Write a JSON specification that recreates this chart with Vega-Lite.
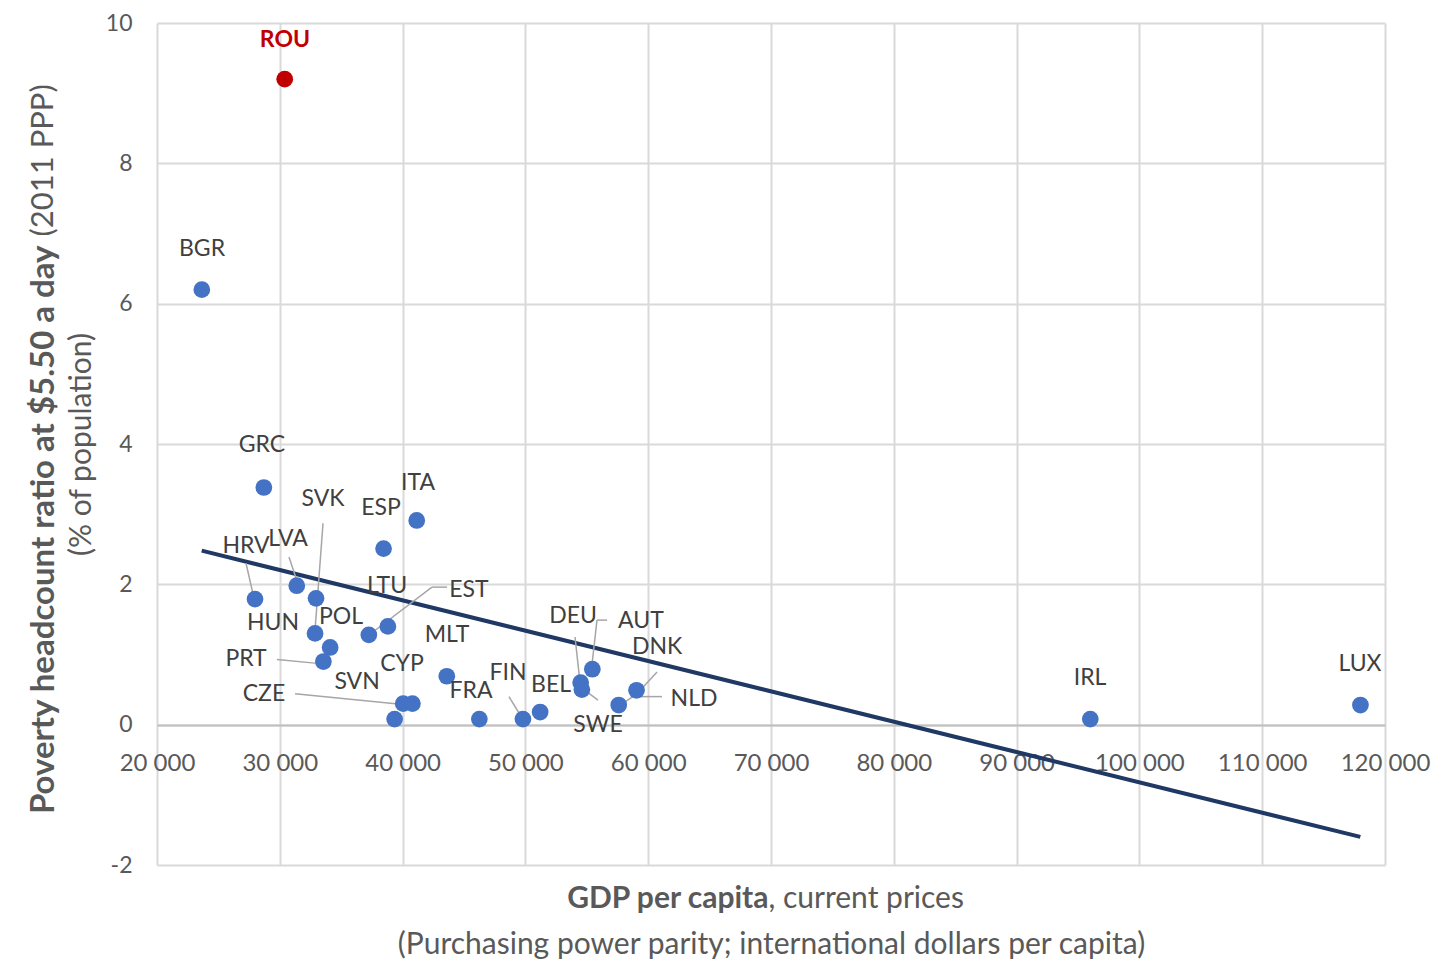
{
  "$schema": "https://vega.github.io/schema/vega-lite/v6.json",
  "width": 1228,
  "height": 842,
  "autosize": {"type": "none"},
  "padding": {"left": 157, "top": 23, "right": 67, "bottom": 97},
  "background": "white",
  "config": {
    "view": {"stroke": null},
    "font": "Lato",
    "axis": {"titleColor": "#595959", "labelColor": "#595959", "titleFont": "Lato", "labelFont": "Lato"}
  },
  "datasets": {
    "points": [
      {"iso": "ROU", "gdp": 30400, "pov": 9.2, "lx": 30420, "ly": 9.76, "group": "ROU"},
      {"iso": "BGR", "gdp": 23650, "pov": 6.2, "lx": 23665, "ly": 6.78, "group": "other"},
      {"iso": "GRC", "gdp": 28700, "pov": 3.38, "lx": 28550, "ly": 3.99, "group": "other"},
      {"iso": "ITA", "gdp": 41150, "pov": 2.91, "lx": 41250, "ly": 3.45, "group": "other"},
      {"iso": "ESP", "gdp": 38450, "pov": 2.51, "lx": 38240, "ly": 3.09, "group": "other"},
      {"iso": "SVK", "gdp": 32870, "pov": 1.3, "lx": 33520, "ly": 3.21, "group": "other"},
      {"iso": "HUN", "gdp": 32950, "pov": 1.8, "lx": 29450, "ly": 1.45, "group": "other"},
      {"iso": "HRV", "gdp": 27980, "pov": 1.79, "lx": 27250, "ly": 2.54, "group": "other"},
      {"iso": "LVA", "gdp": 31380, "pov": 1.98, "lx": 30670, "ly": 2.64, "group": "other"},
      {"iso": "LTU", "gdp": 38800, "pov": 1.4, "lx": 38730, "ly": 1.98, "group": "other"},
      {"iso": "EST", "gdp": 37250, "pov": 1.28, "lx": 45400, "ly": 1.92, "group": "other"},
      {"iso": "POL", "gdp": 34100, "pov": 1.1, "lx": 34980, "ly": 1.54, "group": "other"},
      {"iso": "PRT", "gdp": 33550, "pov": 0.9, "lx": 27250, "ly": 0.94, "group": "other"},
      {"iso": "MLT", "gdp": 43600, "pov": 0.69, "lx": 43620, "ly": 1.28, "group": "other"},
      {"iso": "CYP", "gdp": 40050, "pov": 0.3, "lx": 39950, "ly": 0.87, "group": "other"},
      {"iso": "CZE", "gdp": 40800, "pov": 0.3, "lx": 28710, "ly": 0.43, "group": "other"},
      {"iso": "SVN", "gdp": 39350, "pov": 0.08, "lx": 36290, "ly": 0.61, "group": "other"},
      {"iso": "FRA", "gdp": 46250, "pov": 0.08, "lx": 45570, "ly": 0.48, "group": "other"},
      {"iso": "FIN", "gdp": 49800, "pov": 0.08, "lx": 48580, "ly": 0.73, "group": "other"},
      {"iso": "BEL", "gdp": 51200, "pov": 0.18, "lx": 52090, "ly": 0.56, "group": "other"},
      {"iso": "DEU", "gdp": 54500, "pov": 0.6, "lx": 53880, "ly": 1.55, "group": "other"},
      {"iso": "SWE", "gdp": 54600, "pov": 0.5, "lx": 55910, "ly": 0.0, "group": "other"},
      {"iso": "AUT", "gdp": 55450, "pov": 0.79, "lx": 59410, "ly": 1.48, "group": "other"},
      {"iso": "DNK", "gdp": 59050, "pov": 0.49, "lx": 60720, "ly": 1.1, "group": "other"},
      {"iso": "NLD", "gdp": 57600, "pov": 0.28, "lx": 63730, "ly": 0.37, "group": "other"},
      {"iso": "IRL", "gdp": 96000, "pov": 0.08, "lx": 95980, "ly": 0.67, "group": "other"},
      {"iso": "LUX", "gdp": 118000, "pov": 0.28, "lx": 117960, "ly": 0.87, "group": "other"}
    ],
    "leaders": [
      {"iso": "HRV", "x1": 27250, "y1": 2.3, "x2": 27820, "y2": 1.86},
      {"iso": "LVA", "x1": 30750, "y1": 2.39, "x2": 31320, "y2": 2.09},
      {"iso": "SVK", "x1": 33520, "y1": 2.87, "x2": 32870, "y2": 1.35},
      {"iso": "EST", "x1": 43620, "y1": 1.96, "x2": 42390, "y2": 1.96},
      {"iso": "EST", "x1": 42390, "y1": 1.96, "x2": 37510, "y2": 1.31},
      {"iso": "PRT", "x1": 29770, "y1": 0.93, "x2": 33270, "y2": 0.87},
      {"iso": "CZE", "x1": 31240, "y1": 0.44, "x2": 40440, "y2": 0.28},
      {"iso": "FIN", "x1": 48660, "y1": 0.4, "x2": 49640, "y2": 0.12},
      {"iso": "DEU", "x1": 54040, "y1": 1.25, "x2": 54450, "y2": 0.6},
      {"iso": "SWE", "x1": 55910, "y1": 0.35, "x2": 54770, "y2": 0.5},
      {"iso": "AUT", "x1": 56650, "y1": 1.49, "x2": 55830, "y2": 1.49},
      {"iso": "AUT", "x1": 55830, "y1": 1.49, "x2": 55420, "y2": 0.85},
      {"iso": "DNK", "x1": 60720, "y1": 0.75, "x2": 59500, "y2": 0.52},
      {"iso": "NLD", "x1": 61120, "y1": 0.4, "x2": 58760, "y2": 0.4},
      {"iso": "NLD", "x1": 58760, "y1": 0.4, "x2": 57700, "y2": 0.28}
    ],
    "trend": [
      {"gdp": 23640, "pov": 2.48},
      {"gdp": 117990, "pov": -1.6}
    ]
  },
  "resolve": {"axis": {"x": "independent", "y": "independent"}},
  "layer": [
    {
      "data": {"name": "trend"},
      "mark": {"type": "line", "color": "#203864", "strokeWidth": 4},
      "encoding": {
        "x": {
          "field": "gdp", "type": "quantitative",
          "scale": {"domain": [20000, 120000], "nice": false, "zero": false},
          "axis": {
            "orient": "bottom", "grid": true, "gridColor": "#d9d9d9", "gridWidth": 2,
            "values": [20000, 30000, 40000, 50000, 60000, 70000, 80000, 90000, 100000, 110000, 120000],
            "labels": false, "ticks": false, "domain": false,
            "title": "GDP per capita", "titleFontWeight": "bold", "titleFontSize": 30,
            "titleAlign": "right", "titleBaseline": "middle", "titleX": 611, "titleY": 33
          }
        },
        "y": {
          "field": "pov", "type": "quantitative",
          "scale": {"domain": [-2, 10], "nice": false, "zero": false},
          "axis": {
            "orient": "left", "grid": true, "gridColor": "#d9d9d9", "gridWidth": 2,
            "values": [-2, 0, 2, 4, 6, 8, 10],
            "labelExpr": "replace(datum.label, '\u2212', '-')",
            "labels": true, "labelFontSize": 23, "labelPadding": 25, "ticks": false, "tickSize": 0, "domain": false,
            "title": "Poverty headcount ratio at $5.50 a day", "titleFontWeight": "bold", "titleFontSize": 33,
            "titleAngle": -90, "titleAlign": "right", "titleBaseline": "middle", "titleX": -114, "titleY": 222
          }
        }
      }
    },
    {
      "data": {"name": "leaders"},
      "mark": {"type": "rule", "color": "#a6a6a6", "strokeWidth": 1.5},
      "encoding": {
        "x": {
          "field": "x1", "type": "quantitative",
          "scale": {"domain": [20000, 120000], "nice": false, "zero": false},
          "axis": {
            "orient": "bottom", "grid": false, "labels": false, "ticks": false, "domain": false,
            "title": ", current prices", "titleFontWeight": "normal", "titleFontSize": 30,
            "titleAlign": "left", "titleBaseline": "middle", "titleX": 611, "titleY": 33
          }
        },
        "x2": {"field": "x2"},
        "y": {
          "field": "y1", "type": "quantitative",
          "scale": {"domain": [-2, 10], "nice": false, "zero": false},
          "axis": {
            "orient": "left", "grid": false, "labels": false, "ticks": false, "domain": false,
            "title": "(2011 PPP)", "titleFontWeight": "normal", "titleFontSize": 31,
            "titleAngle": -90, "titleAlign": "left", "titleBaseline": "middle", "titleX": -114, "titleY": 213
          }
        },
        "y2": {"field": "y2"}
      }
    },
    {
      "data": {"name": "points"},
      "mark": {"type": "circle", "size": 280, "opacity": 1},
      "encoding": {
        "x": {
          "field": "gdp", "type": "quantitative",
          "scale": {"domain": [20000, 120000], "nice": false, "zero": false},
          "axis": {
            "orient": "bottom", "grid": false, "labels": false, "ticks": false, "domain": false,
            "title": "(Purchasing power parity; international dollars per capita)", "titleFontWeight": "normal", "titleFontSize": 30,
            "titleAlign": "center", "titleBaseline": "middle", "titleX": 614, "titleY": 79
          }
        },
        "y": {
          "field": "pov", "type": "quantitative",
          "scale": {"domain": [-2, 10], "nice": false, "zero": false},
          "axis": {
            "orient": "left", "grid": false, "labels": false, "ticks": false, "domain": false,
            "title": "(% of population)", "titleFontWeight": "normal", "titleFontSize": 30,
            "titleAngle": -90, "titleAlign": "center", "titleBaseline": "middle", "titleX": -76, "titleY": 421
          }
        },
        "color": {
          "field": "group", "type": "nominal",
          "scale": {"domain": ["ROU", "other"], "range": ["#C00000", "#4472C4"]},
          "legend": null
        }
      }
    },
    {
      "data": {"name": "points"},
      "transform": [{"filter": "datum.iso !== 'ROU'"}],
      "mark": {"type": "text", "fontSize": 23, "color": "#404040", "font": "Lato", "align": "center", "baseline": "middle"},
      "encoding": {
        "x": {
          "field": "lx", "type": "quantitative",
          "scale": {"domain": [20000, 120000], "nice": false, "zero": false},
          "axis": {
            "orient": "bottom", "offset": -140, "grid": false,
            "values": [20000, 30000, 40000, 50000, 60000, 70000, 80000, 90000, 100000, 110000, 120000],
            "labelExpr": "replace(format(datum.value, ',.0f'), ',', ' ')",
            "labelFontSize": 24, "labelPadding": 26, "labelFlush": false, "labelOverlap": false,
            "ticks": false, "tickSize": 0, "domain": true, "domainColor": "#bfbfbf", "domainWidth": 2,
            "title": null
          }
        },
        "y": {
          "field": "ly", "type": "quantitative",
          "scale": {"domain": [-2, 10], "nice": false, "zero": false},
          "axis": null
        },
        "text": {"field": "iso"}
      }
    },
    {
      "data": {"name": "points"},
      "transform": [{"filter": "datum.iso === 'ROU'"}],
      "mark": {"type": "text", "fontSize": 23, "fontWeight": "bold", "color": "#C00000", "font": "Lato", "align": "center", "baseline": "middle"},
      "encoding": {
        "x": {"field": "lx", "type": "quantitative", "scale": {"domain": [20000, 120000], "nice": false, "zero": false}, "axis": null},
        "y": {"field": "ly", "type": "quantitative", "scale": {"domain": [-2, 10], "nice": false, "zero": false}, "axis": null},
        "text": {"field": "iso"}
      }
    }
  ]
}
